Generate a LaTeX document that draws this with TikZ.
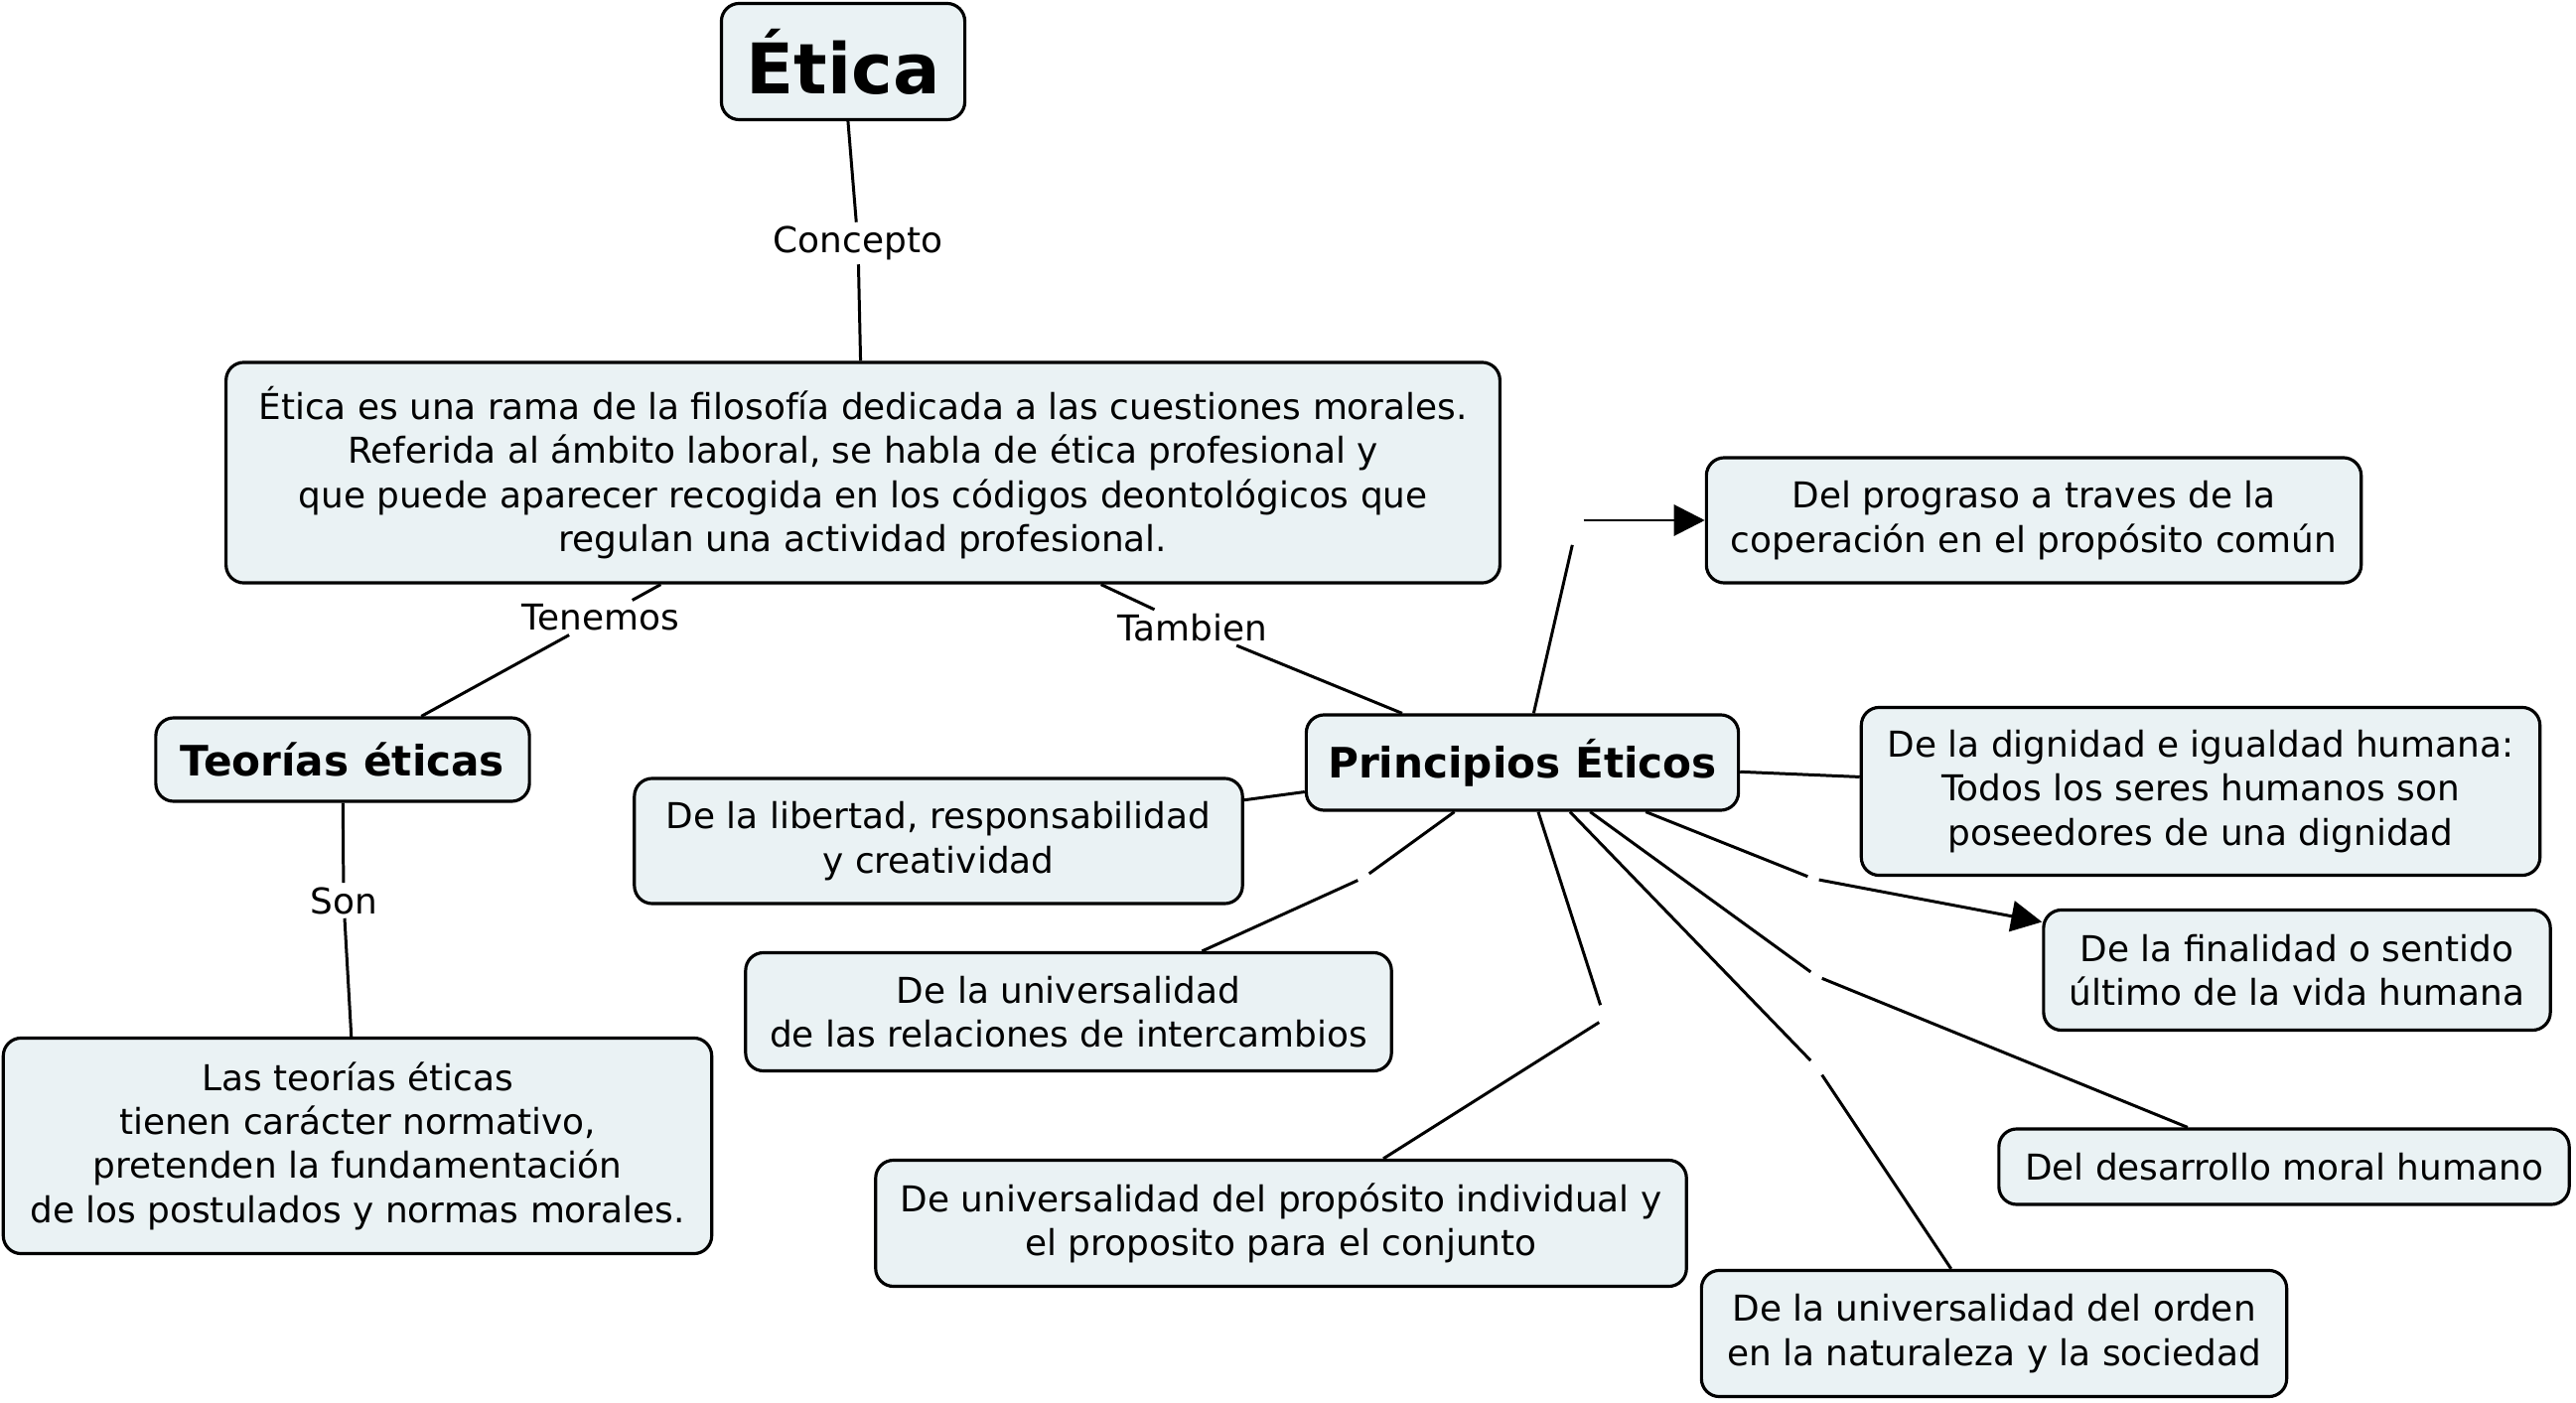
\documentclass[tikz,border=0pt]{standalone}
\usepackage{fontspec}
\setmainfont{DejaVu Sans}
\usetikzlibrary{arrows.meta}
\definecolor{cmapfill}{RGB}{234,242,244}

\begin{document}
\begin{tikzpicture}[x=0.01cm,y=-0.01cm,
  concept/.style={draw,line width=0.9pt,rounded corners=0.18cm,fill=cmapfill,
    align=center,inner sep=0pt,font=\fontsize{10.2}{12.6}\selectfont},
  linklabel/.style={inner sep=1pt,font=\fontsize{10.2}{12.6}\selectfont},
  linkgap/.style={inner sep=0pt,minimum width=0.1cm,minimum height=0.26cm},
  conn/.style={line width=0.85pt},
  arrowconn/.style={-{Triangle[length=0.31cm,width=0.31cm]}}]
\useasboundingbox (0,0) rectangle (2594,1413);

% concepts
\node[concept,minimum width=2.45cm,minimum height=1.17cm,font=\bfseries\fontsize{20}{24}\selectfont] (etica) at (849,62) {Ética};
\node[concept,minimum width=12.82cm,minimum height=2.22cm] (def) at (869,476) {Ética es una rama de la filosofía dedicada a las cuestiones morales.\\Referida al ámbito laboral, se habla de ética profesional y\\que puede aparecer recogida en los códigos deontológicos que\\regulan una actividad profesional.};
\node[concept,minimum width=3.76cm,minimum height=0.84cm,font=\bfseries\fontsize{12}{14}\selectfont] (teorias) at (345,765) {Teorías éticas};
\node[concept,minimum width=7.13cm,minimum height=2.17cm] (lasteorias) at (360,1154) {Las teorías éticas\\tienen carácter normativo,\\pretenden la fundamentación\\de los postulados y normas morales.};
\node[concept,minimum width=4.35cm,minimum height=0.96cm,font=\bfseries\fontsize{12}{14}\selectfont] (principios) at (1533,768) {Principios Éticos};
\node[concept,minimum width=6.59cm,minimum height=1.26cm] (prograso) at (2048,524) {Del prograso a traves de la\\coperación en el propósito común};
\node[concept,minimum width=6.83cm,minimum height=1.69cm] (dignidad) at (2216,797) {De la dignidad e igualdad humana:\\Todos los seres humanos son\\poseedores de una dignidad};
\node[concept,minimum width=6.12cm,minimum height=1.26cm] (libertad) at (945,847) {De la libertad, responsabilidad\\y creatividad};
\node[concept,minimum width=6.5cm,minimum height=1.19cm] (relaciones) at (1076,1019) {De la universalidad\\de las relaciones de intercambios};
\node[concept,minimum width=5.1cm,minimum height=1.21cm] (finalidad) at (2313,977) {De la finalidad o sentido\\último de la vida humana};
\node[concept,minimum width=5.74cm,minimum height=0.76cm] (desarrollo) at (2300,1175) {Del desarrollo moral humano};
\node[concept,minimum width=8.16cm,minimum height=1.27cm] (proposito) at (1290,1232) {De universalidad del propósito individual y\\el proposito para el conjunto};
\node[concept,minimum width=5.89cm,minimum height=1.27cm] (orden) at (2008,1343) {De la universalidad del orden\\en la naturaleza y la sociedad};

% linking phrases
\node[linklabel] (concepto) at (864,245) {Concepto};
\node[linklabel] (tenemos) at (605,622) {Tenemos};
\node[linklabel] (tambien) at (1201,632) {Tambien};
\node[linklabel] (son) at (346,907) {Son};
\node[linkgap,minimum height=0.52cm] (gprog) at (1589,524) {};
\node[linkgap] (gfin) at (1826,885) {};
\node[linkgap] (grel) at (1373,884) {};
\node[linkgap] (gprop) at (1616,1026) {};
\node[linkgap] (gdes) at (1829,983) {};
\node[linkgap] (gord) at (1829,1074) {};

% connectors
\draw[conn] (etica) -- (concepto) -- (def);
\draw[conn] (def) -- (tenemos) -- (teorias);
\draw[conn] (def) -- (tambien) -- (principios);
\draw[conn] (teorias) -- (son) -- (lasteorias);
\draw[conn] (principios) -- (gprog);
\draw[conn,arrowconn] (gprog) -- (prograso);
\draw[conn] (principios) -- (dignidad);
\draw[conn] (principios) -- (libertad);
\draw[conn] (principios) -- (grel) -- (relaciones);
\draw[conn] (principios) -- (gfin);
\draw[conn,arrowconn] (gfin) -- (finalidad);
\draw[conn] (principios) -- (gprop) -- (proposito);
\draw[conn] (principios) -- (gdes) -- (desarrollo);
\draw[conn] (principios) -- (gord) -- (orden);
\end{tikzpicture}
\end{document}
